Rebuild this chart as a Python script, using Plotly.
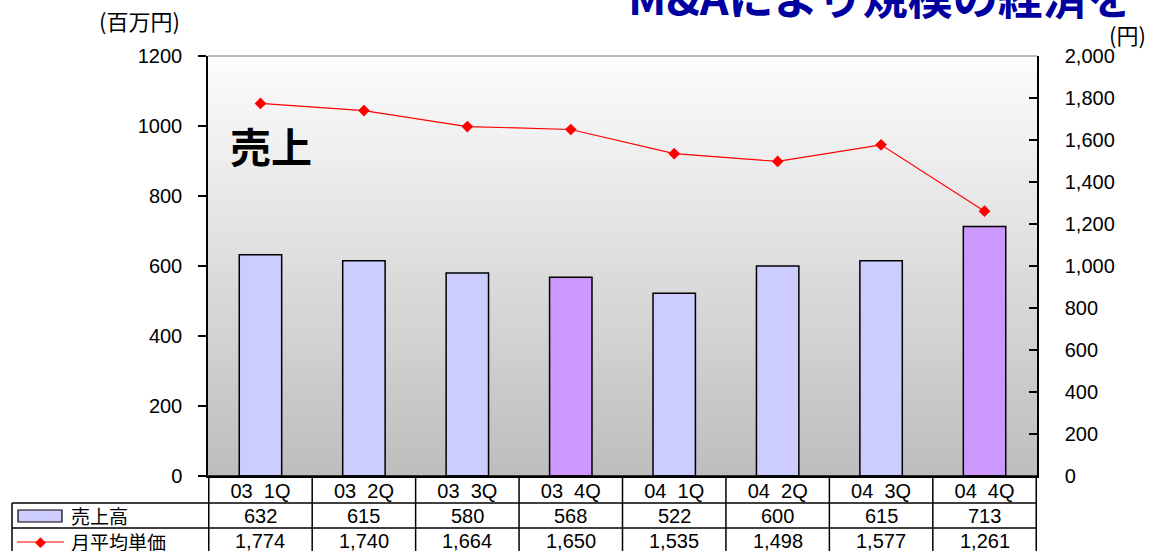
import plotly.graph_objects as go

# data
quarters = ["03 1Q", "03 2Q", "03 3Q", "03 4Q", "04 1Q", "04 2Q", "04 3Q", "04 4Q"]
sales = [632, 615, 580, 568, 522, 600, 615, 713]
unit_price = [1774, 1740, 1664, 1650, 1535, 1498, 1577, 1261]
bar_colors = ["#ccccff", "#ccccff", "#ccccff", "#cc99ff", "#ccccff", "#ccccff", "#ccccff", "#cc99ff"]

W, H = 1153, 551
L, R, T, B = 208, 116, 56, 75
FONT = "Liberation Sans, Arial, Noto Sans CJK JP, sans-serif"
JFONT = "Noto Sans CJK JP, sans-serif"


def py(p):
    # pixel row -> paper y
    return (H - B - p) / (H - T - B)


def px(p):
    return (p - L) / (W - L - R)


def note(x, y, text, size, xanchor="center", family=JFONT, color="black", xref="paper"):
    return dict(x=x, y=y, xref=xref, yref="paper", text=text, showarrow=False,
                xanchor=xanchor, yanchor="middle",
                font=dict(size=size, family=family, color=color))


fig = go.Figure()

fig.add_trace(
    go.Bar(
        x=quarters,
        y=sales,
        marker=dict(color=bar_colors, line=dict(color="black", width=1.5)),
        width=0.41,
        name="売上高",
    )
)
fig.add_trace(
    go.Scatter(
        x=quarters,
        y=unit_price,
        yaxis="y2",
        mode="lines+markers",
        line=dict(color="red", width=1.2),
        marker=dict(symbol="diamond", size=9, color="red"),
        name="月平均単価",
    )
)

shapes = []
# vertical gradient background, white at top to grey at bottom
n = 60
for i in range(n):
    t = i / (n - 1)
    c = int(253 - (253 - 190) * (1 - t))
    shapes.append(
        dict(
            type="rect", xref="x domain", yref="y domain",
            x0=0, x1=1, y0=i / n, y1=(i + 1) / n,
            fillcolor=f"rgb({c},{c},{c})", line=dict(width=0), layer="below",
        )
    )
# top border
shapes.append(dict(type="line", xref="paper", yref="paper", x0=0, x1=1, y0=1, y1=1,
                   line=dict(color="#a0a0a0", width=1.5)))

# data table below the plot
tbl_line = dict(color="black", width=1.5)
for p in (476, 503, 528):
    x0 = 0 if p == 476 else px(12)
    shapes.append(dict(type="line", xref="paper", yref="paper", x0=x0, x1=1,
                       y0=py(p), y1=py(p), line=tbl_line))
shapes.append(dict(type="line", xref="paper", yref="paper", x0=px(12), x1=px(12),
                   y0=py(503), y1=py(560), line=tbl_line))
for k in range(len(quarters) + 1):
    shapes.append(dict(type="line", xref="x", yref="paper", x0=k - 0.5, x1=k - 0.5,
                       y0=py(476), y1=py(560), line=tbl_line))

# legend keys in the table
shapes.append(dict(type="rect", xref="paper", yref="paper", x0=px(18), x1=px(62),
                   y0=py(522), y1=py(510), fillcolor="#ccccff", line=dict(color="black", width=1.2)))
shapes.append(dict(type="line", xref="paper", yref="paper", x0=px(17), x1=px(64),
                   y0=py(542), y1=py(542), line=dict(color="red", width=1.2)))

annotations = []
for q, s, u in zip(quarters, sales, unit_price):
    annotations.append(note(q, py(516), f"{s:,}", 20, family=FONT, xref="x"))
    annotations.append(note(q, py(541), f"{u:,}", 20, family=FONT, xref="x"))

annotations += [
    note(px(69), py(515), "売上高", 19, xanchor="left"),
    note(px(69), py(541), "月平均単価", 19, xanchor="left"),
    note(px(40.5), py(542), "◆", 11, color="red"),
    note(px(139), py(20), "(百万円)", 22),
    note(px(1107), py(34), "(円)", 22, xanchor="left"),
    note(px(271), py(145), "<b>売上</b>", 41),
    dict(x=px(626), y=py(30), xref="paper", yref="paper", xanchor="left", yanchor="bottom",
         text="<b>M&Aにより規模の経済を</b>", showarrow=False,
         font=dict(size=45, family=JFONT, color="#0000a0")),
]

fig.update_layout(
    width=W,
    height=H,
    margin=dict(l=L, r=R, t=T, b=B, autoexpand=False),
    paper_bgcolor="white",
    plot_bgcolor="white",
    showlegend=False,
    bargap=0.59,
    font=dict(family=FONT, size=20, color="black"),
    shapes=shapes,
    annotations=annotations,
    xaxis=dict(
        type="category",
        automargin=False,
        showgrid=False,
        showline=True,
        linecolor="black",
        linewidth=1.5,
        ticks="",
        ticklabelstandoff=-4,
        tickvals=quarters,
        ticktext=[q.replace(" ", "&nbsp;&nbsp;") for q in quarters],
        tickfont=dict(size=20, family=FONT),
    ),
    yaxis=dict(
        automargin=False,
        range=[0, 1200],
        dtick=200,
        tickformat="d",
        showgrid=False,
        zeroline=False,
        showline=True,
        linecolor="black",
        linewidth=1.5,
        ticks="outside",
        ticklen=8,
        tickwidth=1.5,
        tickcolor="black",
        ticklabelstandoff=12,
    ),
    yaxis2=dict(
        automargin=False,
        overlaying="y",
        side="right",
        range=[0, 2000],
        dtick=200,
        tickformat=",",
        showgrid=False,
        zeroline=False,
        showline=True,
        linecolor="black",
        linewidth=1.5,
        ticks="inside",
        ticklen=8,
        tickwidth=1.5,
        tickcolor="black",
        ticklabelstandoff=22,
    ),
)

# drop the page's default body margin so the figure sits at the window corner
fig.write_html(
    "out.html",
    config={"displayModeBar": False},
    post_script="document.body.style.margin = '0';",
)
